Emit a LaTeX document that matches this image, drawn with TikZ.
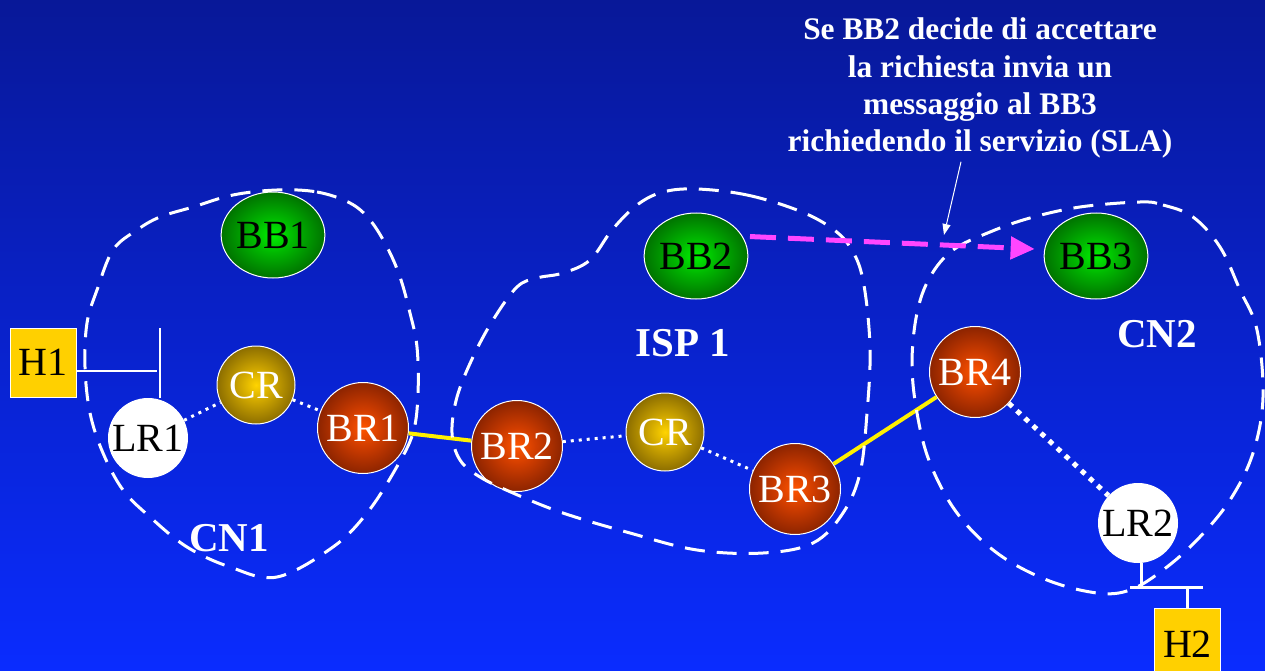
\documentclass[tikz,border=0pt]{standalone}
\usepackage{fontspec}
\setmainfont{Liberation Serif}
\usetikzlibrary{shapes.geometric,arrows.meta}
\pgfdeclareradialshading{greenball}{\pgfpointorigin}{rgb(0bp)=(0,0.95,0); rgb(10bp)=(0,0.72,0); rgb(25bp)=(0,0.45,0); rgb(50bp)=(0,0.45,0)}
\pgfdeclareradialshading{redball}{\pgfpointorigin}{rgb(0bp)=(1,0.33,0); rgb(10bp)=(0.82,0.24,0); rgb(25bp)=(0.55,0.14,0); rgb(50bp)=(0.55,0.14,0)}
\pgfdeclareradialshading{goldball}{\pgfpointorigin}{rgb(0bp)=(1,0.83,0); rgb(10bp)=(0.82,0.66,0); rgb(25bp)=(0.55,0.43,0); rgb(50bp)=(0.55,0.43,0)}
\definecolor{bgtop}{RGB}{8,24,152}
\definecolor{bgbot}{RGB}{10,44,255}
\definecolor{hostyellow}{RGB}{255,208,0}
\definecolor{linkyellow}{RGB}{255,240,0}
\definecolor{msgmag}{RGB}{255,70,255}
\tikzset{
  nodefont/.style={font=\fontsize{40}{44}\selectfont},
  bb/.style={ellipse, draw=white, line width=1pt, shading=greenball, minimum width=94pt, minimum height=86pt, inner sep=0pt, nodefont, text=black},
  br/.style={circle, draw=white, line width=1pt, shading=redball, minimum size=91pt, inner sep=0pt, nodefont, text=white},
  cr/.style={circle, draw=white, line width=1pt, shading=goldball, minimum size=78pt, inner sep=0pt, nodefont, text=white},
  lr/.style={circle, fill=white, minimum size=80pt, inner sep=0pt, nodefont, text=black},
  host/.style={rectangle, fill=hostyellow, draw=white, line width=0.5pt, minimum width=66pt, minimum height=69pt, inner sep=0pt, nodefont, text=black},
  dots/.style={draw=white, line width=3pt, dash pattern=on 3pt off 5pt},
  bigdots/.style={draw=white, line width=5pt, dash pattern=on 5pt off 6pt},
  link/.style={draw=linkyellow, line width=4pt},
  arealine/.style={draw=white, line width=3pt, dash pattern=on 20pt off 12pt},
  bar/.style={draw=white, line width=2pt},
  msg/.style={draw=msgmag, line width=5pt, dash pattern=on 26pt off 12pt, -{Triangle[length=24pt,width=22pt]}},
  note/.style={text=white, font=\bfseries\fontsize{31.4}{37.3}\selectfont, align=center, inner sep=0pt},
  lbl/.style={text=white, font=\bfseries\fontsize{41}{44}\selectfont, inner sep=0pt}
}
\begin{document}
\begin{tikzpicture}[x=1pt,y=-1pt]
\useasboundingbox (0,0) rectangle (1265,671);
\clip (0,0) rectangle (1265,671);
\shade[top color=bgtop, bottom color=bgbot] (0,0) rectangle (1265,671);

% nodes
\node[bb] (bb1) at (273,235) {BB1};
\node[bb] (bb2) at (696,256) {BB2};
\node[bb] (bb3) at (1096,256) {BB3};
\node[cr] (cr1) at (256,385) {CR};
\node[cr] (cr2) at (665,432) {CR};
\node[br] (br1) at (363,428) {BR1};
\node[br] (br2) at (517,446) {BR2};
\node[br] (br3) at (795,489) {BR3};
\node[br] (br4) at (975,372) {BR4};
\node[lr] (lr1) at (148,438) {LR1};
\node[lr] (lr2) at (1138,523) {LR2};
\node[host] (h1) at (43,362.5) {H1};
\node[host, minimum height=72pt] (h2) at (1187.5,644) {H2};

% connectors
\draw[dots] (lr1) -- (cr1);
\draw[dots] (cr1) -- (br1);
\draw[dots] (br2) -- (cr2);
\draw[dots] (cr2) -- (br3);
\draw[bigdots] (br4) -- (lr2);
\draw[link] (br1) -- (br2);
\draw[link] (br3) -- (br4);

% host attachments
\coordinate (t1) at (160,328);
\coordinate (j1) at (157,371);
\draw[bar] ([yshift=-8.5pt]h1.east) -- (j1);
\draw[bar] (t1) -- (lr1.north -| t1);
\coordinate (b2l) at (1130,587);
\coordinate (b2r) at (1203,587);
\draw[bar, line width=3pt] ([xshift=3pt]lr2.south) -- ([xshift=3pt]lr2.south |- b2l);
\draw[bar, line width=3pt] (b2l) -- (b2r);
\draw[bar, line width=3pt] (h2.north |- b2l) -- (h2.north);

% domain outlines
\draw[arealine] plot[smooth cycle, tension=0.6] coordinates {
 (277,190) (317,192) (350,203) (370,220) (387,247) (400,277) (410,313) (417,347) (418,393) (413,433) (395,470) (367,513) (333,547) (277,577) (230,567) (187,547) (150,517) (123,490) (103,453) (90,413) (85,367) (87,323) (97,290) (113,250) (137,230) (160,217) (193,207) (233,195)};
\draw[arealine] plot[smooth cycle, tension=0.6] coordinates {
 (697,189) (747,195) (797,210) (830,227) (850,247) (863,280) (870,347) (867,413) (860,473) (843,513) (813,543) (763,553) (697,550) (630,533) (563,513) (513,493) (480,477) (460,460) (452,433) (457,397) (473,357) (493,320) (517,287) (537,278) (563,273) (590,260) (612,230) (637,205) (663,192)};
\draw[arealine] plot[smooth cycle, tension=0.6] coordinates {
 (1140,202) (1163,205) (1193,217) (1220,247) (1240,290) (1257,330) (1263,397) (1253,453) (1230,500) (1197,540) (1163,570) (1130,590) (1097,593) (1047,580) (997,553) (957,513) (930,463) (917,413) (912,363) (917,313) (930,277) (953,250) (990,232) (1030,218) (1080,207)};

% labels
\node[lbl] (cn1) at (229,538) {CN1};
\node[lbl] (isp) at (683,343) {ISP 1};
\node[lbl] (cn2) at (1157,334) {CN2};

% message
\draw[msg] ([xshift=6pt,yshift=2pt]bb2.20) -- ([xshift=-9pt,yshift=7pt]bb3.west);

% annotation
\node[note, anchor=north] (txt) at (980,18) {Se BB2 decide di accettare\\la richiesta invia un\\messaggio al BB3\\richiedendo il servizio (SLA)};
\coordinate (tip) at (944,235);
\draw[white, line width=1pt, -{Triangle[length=11pt,width=8pt]}] ([xshift=-19pt,yshift=-3pt]txt.south) -- (tip);
\end{tikzpicture}
\end{document}
